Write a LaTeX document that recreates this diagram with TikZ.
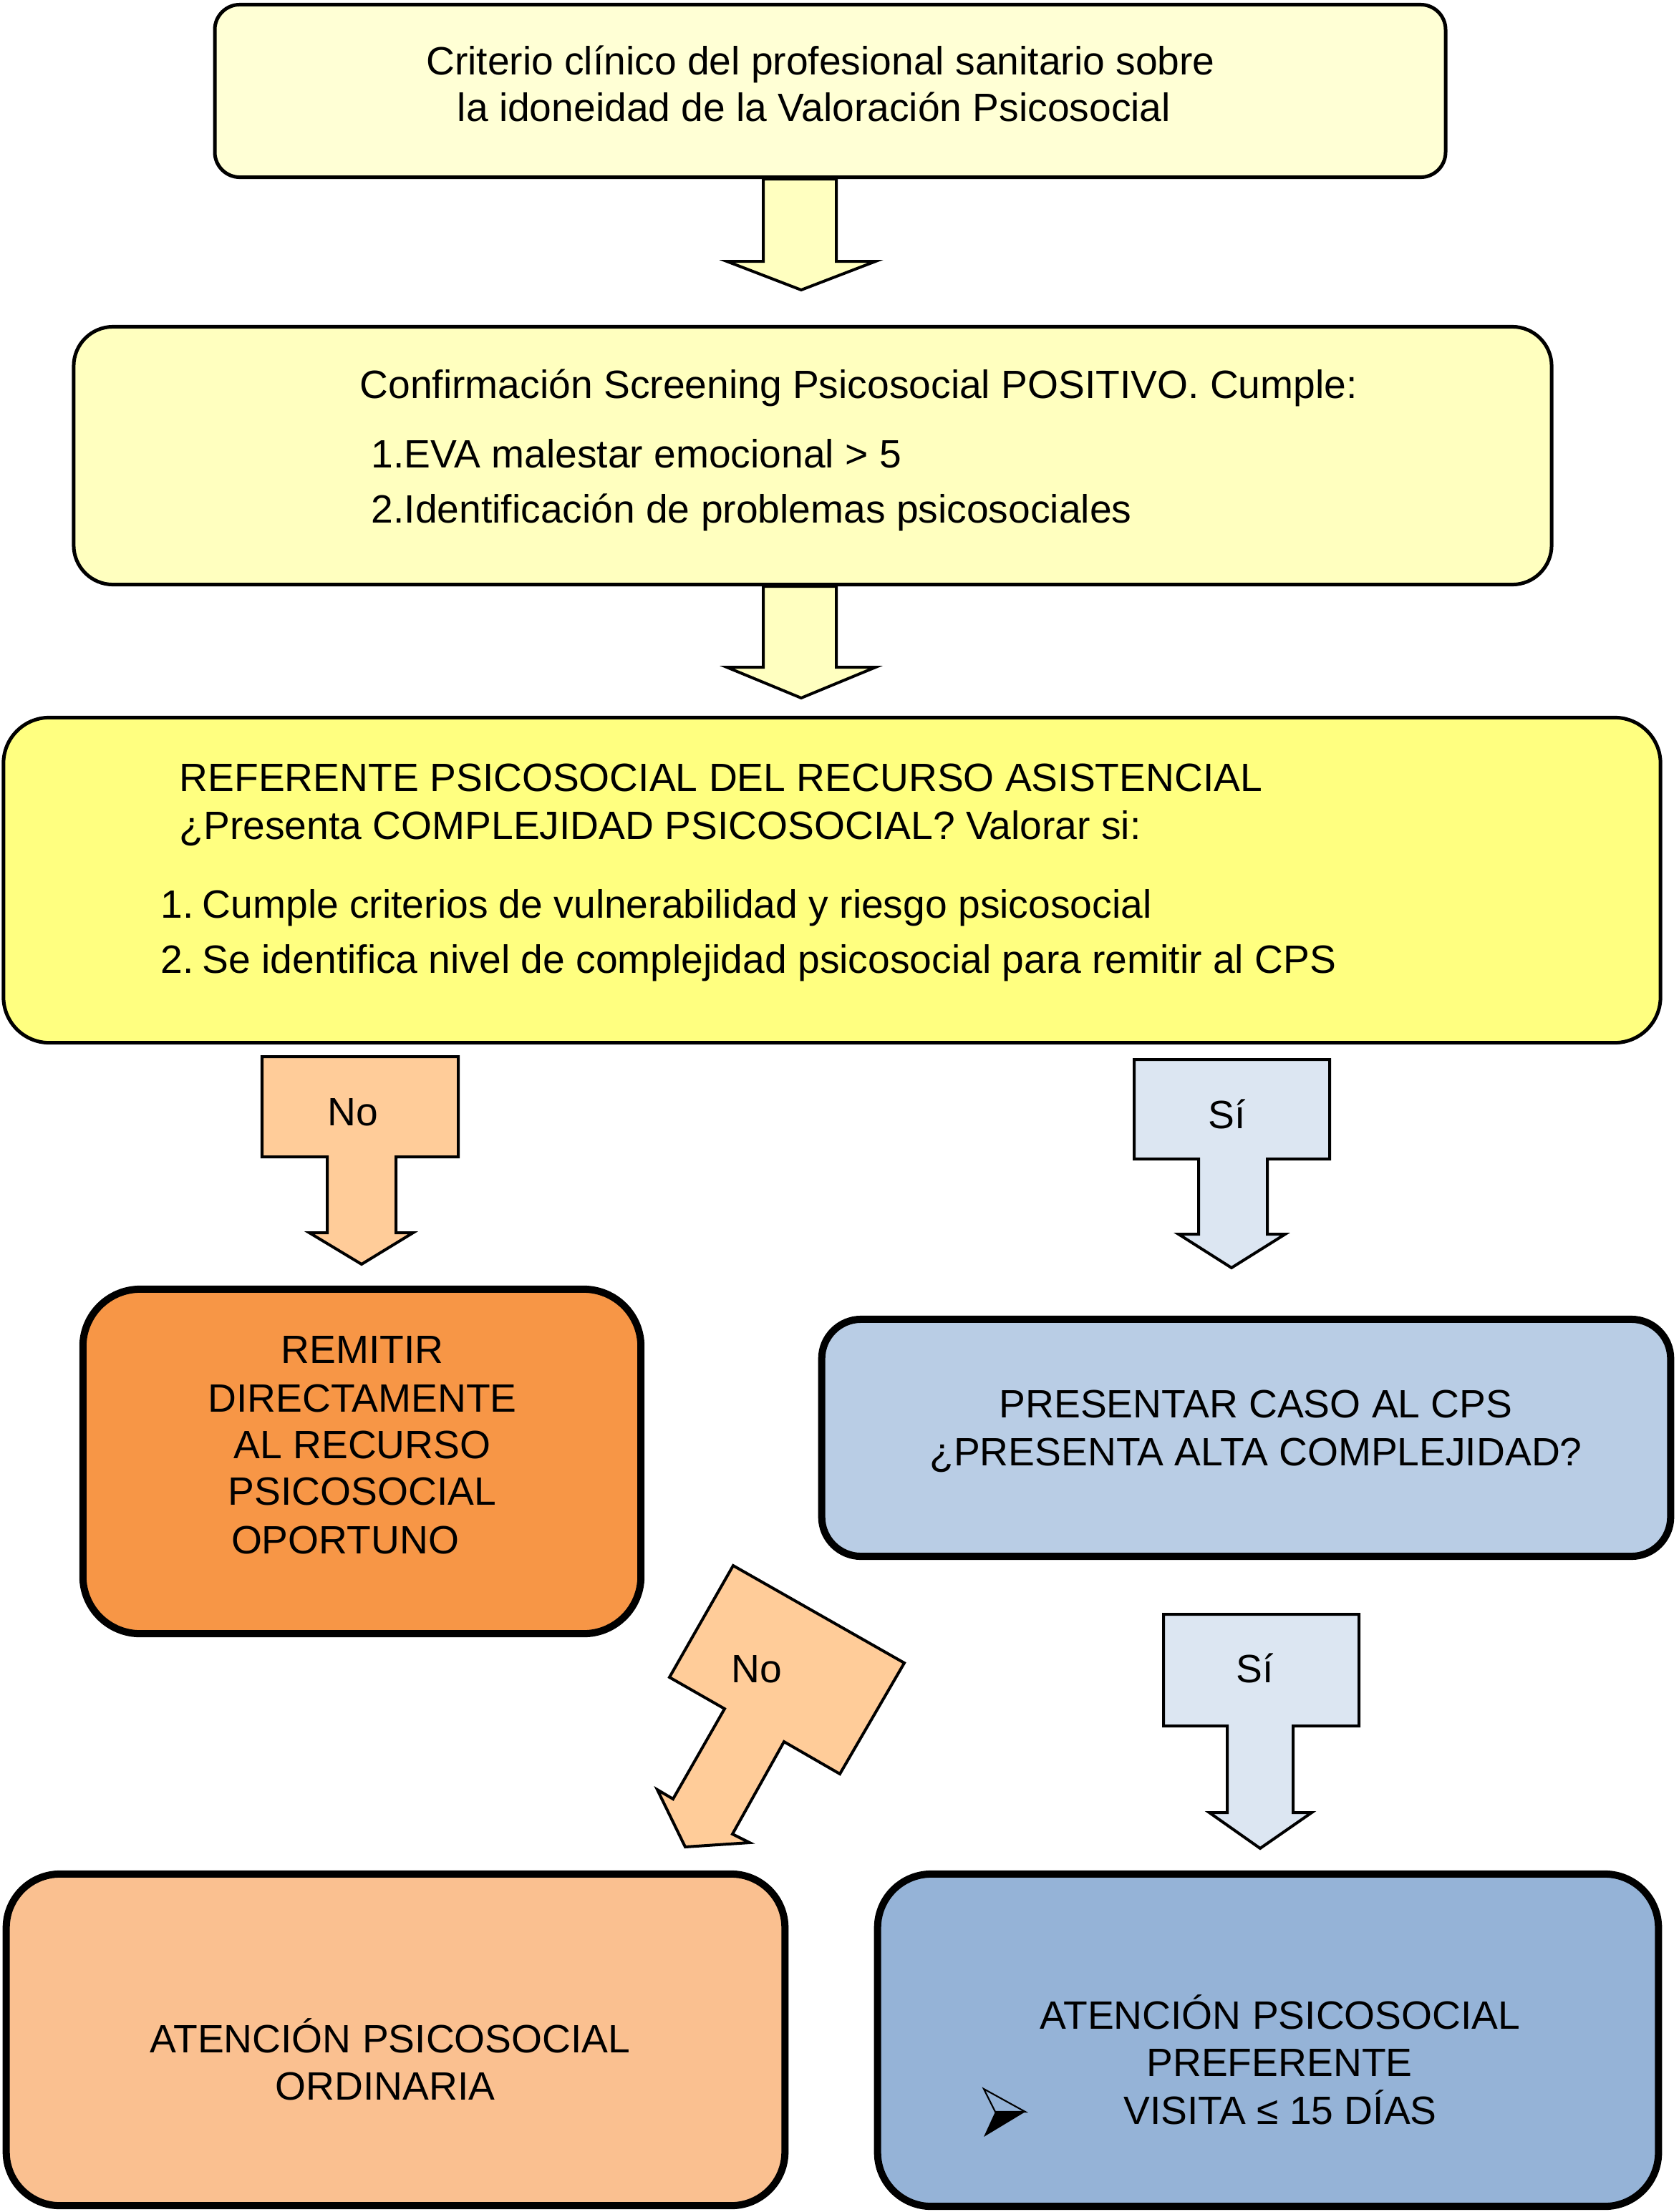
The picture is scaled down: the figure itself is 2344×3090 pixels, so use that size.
\documentclass[tikz,border=0pt]{standalone}
\usepackage{fontspec}
\setmainfont{Liberation Sans}
\definecolor{ylA}{HTML}{FFFFD5}
\definecolor{ylB}{HTML}{FFFFBF}
\definecolor{ylC}{HTML}{FFFF80}
\definecolor{arrY}{HTML}{FFFFC0}
\definecolor{arrNo}{HTML}{FFCC99}
\definecolor{arrSi}{HTML}{DCE6F2}
\definecolor{orA}{HTML}{F79646}
\definecolor{blA}{HTML}{B9CDE5}
\definecolor{orB}{HTML}{FAC090}
\definecolor{blB}{HTML}{95B3D7}
\newcommand{\fsz}{\fontsize{15.7}{18.9}\selectfont}
\begin{document}
\begin{tikzpicture}[x=0.01cm,y=-0.01cm,
  thinbox/.style={draw=black,line width=1.42pt,inner sep=0pt},
  thickbox/.style={draw=black,line width=2.85pt,inner sep=0pt},
  blockarrow/.style={draw=black,line width=1.14pt,line join=miter},
  txt/.style={inner sep=0pt,font=\fsz,text height=11.2pt,text depth=0pt},
  ltxt/.style={txt,anchor=west}]
\useasboundingbox (0,0) rectangle (2344,3090);

% boxes
\node[thinbox,fill=ylA,rounded corners=0.35cm,minimum width=17.18cm,minimum height=2.41cm] (b1) at (1159.5,127) {};
\node[thinbox,fill=ylB,rounded corners=0.55cm,minimum width=20.63cm,minimum height=3.60cm] (b2) at (1135,636.5) {};
\node[thinbox,fill=ylC,rounded corners=0.64cm,minimum width=23.13cm,minimum height=4.54cm] (b3) at (1162,1229.5) {};
\node[thickbox,fill=orA,rounded corners=0.80cm,minimum width=7.79cm,minimum height=4.81cm] (b4) at (505.5,2041.5) {};
\node[thickbox,fill=blA,rounded corners=0.55cm,minimum width=11.85cm,minimum height=3.31cm] (b5) at (1740.5,2008.5) {};
\node[thickbox,fill=orB,rounded corners=0.75cm,minimum width=10.87cm,minimum height=4.63cm] (b6) at (552.5,2849.5) {};
\node[thickbox,fill=blB,rounded corners=0.75cm,minimum width=10.90cm,minimum height=4.64cm] (b7) at (1771,2850) {};

% block arrows
\draw[blockarrow,fill=arrY] (1066,250) -- (1168,250) -- (1168,365) -- (1223,365) -- (1119,405) -- (1015,365) -- (1066,365) -- cycle;
\draw[blockarrow,fill=arrY] (1066,819) -- (1168,819) -- (1168,932) -- (1223,932) -- (1119,975) -- (1015,932) -- (1066,932) -- cycle;
\draw[blockarrow,fill=arrNo] (366,1476) -- (640,1476) -- (640,1616) -- (553,1616) -- (553,1722) -- (577,1722) -- (505,1766) -- (432,1722) -- (457,1722) -- (457,1616) -- (366,1616) -- cycle;
\draw[blockarrow,fill=arrSi] (1584,1480) -- (1857,1480) -- (1857,1619) -- (1770,1619) -- (1770,1724) -- (1795,1724) -- (1720,1771) -- (1646,1724) -- (1674,1724) -- (1674,1619) -- (1584,1619) -- cycle;
\draw[blockarrow,fill=arrNo] (1024,2187) -- (1263,2323) -- (1173,2478) -- (1095,2433) -- (1023,2562) -- (1047,2574) -- (957,2580) -- (918,2500) -- (940,2513) -- (1012,2387) -- (935,2343) -- cycle;
\draw[blockarrow,fill=arrSi] (1625,2255) -- (1898,2255) -- (1898,2411) -- (1806,2411) -- (1806,2532) -- (1832,2532) -- (1760,2582) -- (1689,2532) -- (1714,2532) -- (1714,2411) -- (1625,2411) -- cycle;

% arrow labels
\node[txt] (lno1) at (493,1553) {No};
\node[txt] (lsi1) at (1714,1557) {Sí};
\node[txt] (lno2) at (1057,2331) {No};
\node[txt] (lsi2) at (1753,2331) {Sí};

% texts box 1
\node[txt] (t1a) at (1146,85) {Criterio clínico del profesional sanitario sobre};
\node[txt] (t1b) at (1137,150) {la idoneidad de la Valoración Psicosocial};
% box 2
\node[ltxt] (t2a) at (502,537) {Confirmación Screening Psicosocial POSITIVO. Cumple:};
\node[ltxt] (t2b) at (518,634) {1.EVA malestar emocional > 5};
\node[ltxt] (t2c) at (518,711) {2.Identificación de problemas psicosociales};
% box 3
\node[ltxt] (t3a) at (250,1086) {REFERENTE PSICOSOCIAL DEL RECURSO ASISTENCIAL};
\node[ltxt] (t3b) at (250,1153) {¿Presenta COMPLEJIDAD PSICOSOCIAL? Valorar si:};
\node[ltxt] (t3c) at (224,1263) {1.\hspace{0.22em}Cumple criterios de vulnerabilidad y riesgo psicosocial};
\node[ltxt] (t3d) at (224,1340) {2.\hspace{0.22em}Se identifica nivel de complejidad psicosocial para remitir al CPS};
% box 4
\node[txt] (t4a) at (506,1885) {REMITIR};
\node[txt] (t4b) at (506,1953) {DIRECTAMENTE};
\node[txt] (t4c) at (506,2018) {AL RECURSO};
\node[txt] (t4d) at (506,2083) {PSICOSOCIAL};
\node[txt] (t4e) at (482,2151) {OPORTUNO};
% box 5
\node[txt] (t5a) at (1754,1961) {PRESENTAR CASO AL CPS};
\node[txt] (t5b) at (1754,2028) {¿PRESENTA ALTA COMPLEJIDAD?};
% box 6
\node[txt] (t6a) at (545,2848) {ATENCIÓN PSICOSOCIAL};
\node[txt] (t6b) at (538,2914) {ORDINARIA};
% box 7
\node[txt] (t7a) at (1788,2815) {ATENCIÓN PSICOSOCIAL};
\node[txt] (t7b) at (1787,2881) {PREFERENTE};
\node[txt] (t7c) at (1788,2948) {VISITA ≤ 15 DÍAS};

% bullet arrowhead
\draw[line width=0.6pt,line join=miter] (1374,2918) -- (1432,2950) -- (1390,2950) -- cycle;
\fill[black] (1390,2950) -- (1432,2950) -- (1374,2985) -- cycle;
\end{tikzpicture}
\end{document}
